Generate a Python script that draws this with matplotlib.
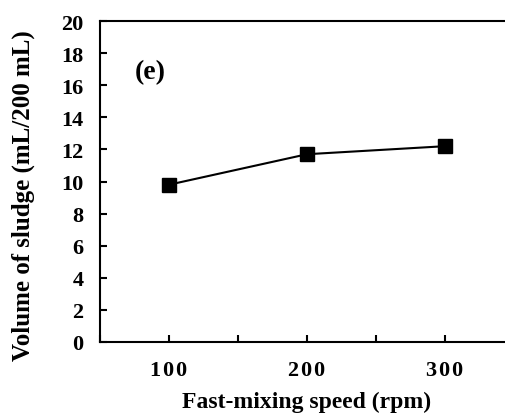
import matplotlib
matplotlib.use("Agg")
import matplotlib.pyplot as plt
from matplotlib.ticker import MultipleLocator

speeds = [100, 200, 300]
sludge = [9.8, 11.7, 12.2]
xtick_labels = ["1\u200a0\u200a0", "2\u200a0\u200a0", "3\u200a0\u200a0"]
yticks = list(range(0, 21, 2))

plt.rcParams['font.family'] = ['Liberation Serif', 'DejaVu Serif']
plt.rcParams['font.weight'] = 'bold'

fig = plt.figure(figsize=(5.05, 4.14), dpi=100)
ax = fig.add_axes([100/505, 1-343/414, 414/505, (343-22)/414])
ax.plot(speeds, sludge, color='black', lw=1.5, marker='s', markersize=9.5)
ax.set_xlim(50, 350)
ax.set_ylim(0, 20)
ax.set_xticks(speeds)
ax.set_xticklabels(xtick_labels)
ax.xaxis.set_minor_locator(MultipleLocator(50))
ax.set_yticks(yticks)
ax.tick_params(axis='both', which='both', direction='in', width=1.5, length=5,
               labelsize=16)
ax.tick_params(axis='x', which='major', pad=13)
ax.tick_params(axis='y', pad=12)
for lab in ax.get_xticklabels() + ax.get_yticklabels():
    lab.set_fontweight('bold')
for s in ax.spines.values():
    s.set_linewidth(1.5)
ax.set_xlabel('Fast-mixing speed (rpm)', fontsize=17, fontweight='bold', labelpad=8)
ax.set_ylabel('Volume of sludge (mL/200 mL)', fontsize=18, fontweight='bold')
ax.yaxis.set_label_coords(-0.158, 0.458)
ax.text(0.085, 0.823, '(e)', fontsize=20, fontweight='bold', transform=ax.transAxes)
fig.savefig('out.png', dpi=100)
